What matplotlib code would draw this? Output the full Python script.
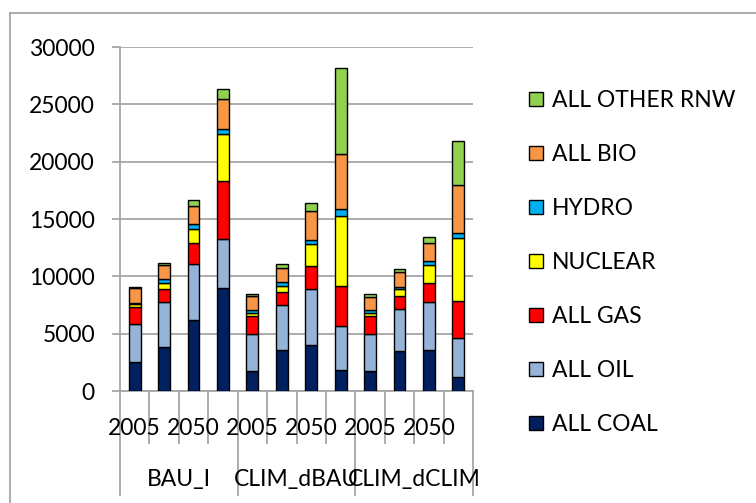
import numpy as np
import matplotlib
matplotlib.use("Agg")
from matplotlib import pyplot as plt
from matplotlib.lines import Line2D
from matplotlib.patches import Patch

plt.rcParams['font.family'] = ['Lato', 'DejaVu Sans']

# data (stack order bottom -> top)
groups = ['BAU_I', 'CLIM_dBAU', 'CLIM_dCLIM']
year_labels = ['2005', '', '2050', '']  # only every other label shown
series = ['ALL COAL', 'ALL OIL', 'ALL GAS', 'NUCLEAR', 'HYDRO', 'ALL BIO', 'ALL OTHER RNW']
colors = ['#002060', '#95B3D7', '#FF0000', '#FFFF00', '#00B0F0', '#F79646', '#92D050']

coal = [2500, 3840, 6180, 9000, 1720, 3550, 4050, 1860, 1720, 3470, 3550, 1220]
oil = [3330, 3940, 4860, 4250, 3290, 3910, 4810, 3820, 3290, 3720, 4230, 3440]
gas = [1500, 1080, 1830, 5070, 1510, 1160, 2000, 3500, 1510, 1110, 1600, 3180]
nuclear = [230, 520, 1260, 4110, 240, 530, 1960, 6080, 240, 560, 1600, 5530]
hydro = [120, 350, 400, 410, 290, 350, 350, 590, 290, 230, 350, 440]
bio = [1340, 1220, 1630, 2650, 1220, 1220, 2530, 4830, 1160, 1250, 1540, 4160]
other_rnw = [80, 240, 490, 870, 230, 320, 730, 7490, 240, 320, 530, 3790]

values = [coal, oil, gas, nuclear, hydro, bio, other_rnw]

W, H = 756, 503
fig = plt.figure(figsize=(W / 100, H / 100), dpi=100)

def px(x0, y0, x1, y1):
    # pixel box (top-left origin) -> figure fraction
    return [x0 / W, 1 - y1 / H, (x1 - x0) / W, (y1 - y0) / H]

ax = fig.add_axes(px(120, 47, 473, 391))
grid_c = '#a6a6a6'
fs = 16.5

x = np.arange(len(coal))
bottom = np.zeros(len(coal))
for name, vals, c in zip(series, values, colors):
    ax.bar(x, vals, width=0.4, bottom=bottom, color=c, edgecolor='black',
           linewidth=1.0, label=name, zorder=3)
    bottom += np.array(vals)

ax.set_xlim(-0.5, len(coal) - 0.5)
ax.set_ylim(0, 30000)
ax.set_yticks(np.arange(0, 30001, 5000))
ax.yaxis.grid(True, color=grid_c, linewidth=1.3, zorder=0)
ax.tick_params(axis='y', length=6, width=1.3, color=grid_c, labelsize=fs, pad=12)
ax.set_xticks([])
for s in ['top', 'right']:
    ax.spines[s].set_visible(False)
for s in ['left', 'bottom']:
    ax.spines[s].set_color(grid_c)
    ax.spines[s].set_linewidth(1.3)

# category axis: tick marks between bars, longer ones between groups
tr = ax.get_xaxis_transform()
for b in np.arange(-0.5, len(coal), 1.0):
    depth = -0.302 if (b + 0.5) % 4 == 0 else -0.151
    ax.plot([b, b], [0, depth], color=grid_c, lw=1.3, transform=tr, clip_on=False)

for i in range(len(coal)):
    lab = year_labels[i % 4]
    if lab:
        ax.text(i, -0.11, lab, transform=tr, ha='center', va='center', fontsize=fs)
for g, name in enumerate(groups):
    ax.text(g * 4 + 1.5, -0.256, name, transform=tr, ha='center', va='center', fontsize=fs)

# legend, top item = last series
handles = [Patch(facecolor=c, edgecolor='black', linewidth=1.0) for c in colors][::-1]
fig.legend(handles, series[::-1], loc='upper left', bbox_to_anchor=(529 / W, 1 - 90 / H),
           frameon=False, fontsize=fs, handlelength=0.6, handleheight=0.6,
           handletextpad=0.4, labelspacing=1.44, borderpad=0, borderaxespad=0)

# chart frame (left and top edges visible)
fig.add_artist(Line2D([10 / W, 10 / W], [0, 1 - 13 / H], color=grid_c, lw=1.3))
fig.add_artist(Line2D([10 / W, 1], [1 - 13 / H, 1 - 13 / H], color=grid_c, lw=1.3))

fig.savefig('out.png', dpi=100)
